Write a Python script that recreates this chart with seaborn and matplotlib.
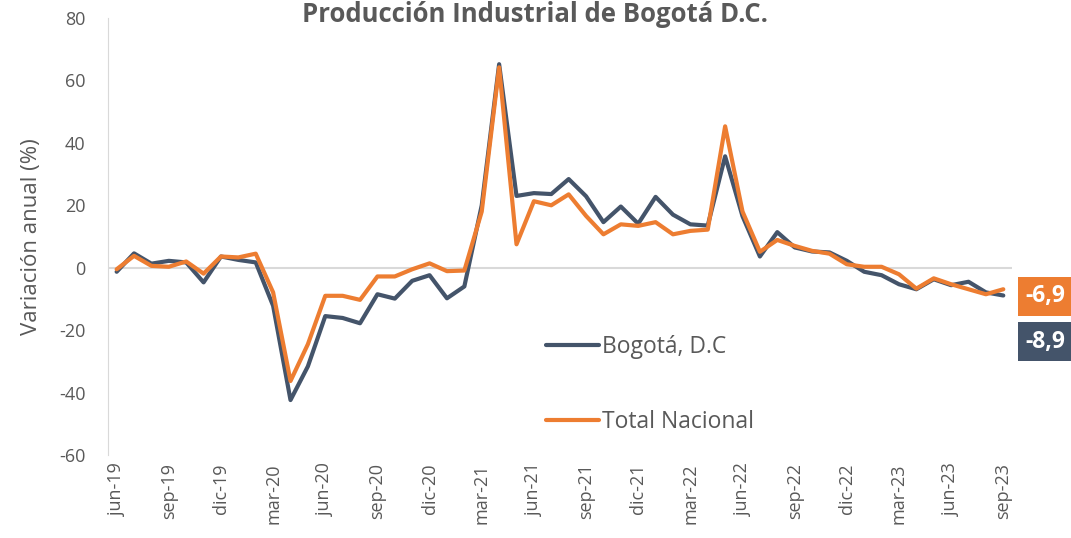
import numpy as np
import pandas as pd
import matplotlib.pyplot as plt
import seaborn as sns

# meses en español, serie de jun-19 a sep-23
meses = ['ene', 'feb', 'mar', 'abr', 'may', 'jun', 'jul', 'ago', 'sep', 'oct', 'nov', 'dic']
periodos = [f"{meses[m % 12]}-{19 + m // 12}" for m in range(5, 5 + 52)]

bogota = [-1.3, 4.6, 1.3, 2.2, 1.7, -4.7, 3.6, 2.5, 1.7, -12.2,
          -42.4, -31.6, -15.5, -16.1, -17.8, -8.5, -9.9, -4.2, -2.4, -9.8,
          -6.0, 20.0, 65.2, 23.0, 23.9, 23.6, 28.4, 22.9, 14.6, 19.6,
          14.1, 22.7, 17.0, 13.9, 13.5, 35.7, 16.5, 3.6, 11.4, 6.5,
          5.2, 4.9, 2.2, -1.3, -2.4, -5.3, -6.9, -3.7, -5.6, -4.5,
          -7.9, -8.9]
nacional = [-0.5, 3.8, 0.6, 0.3, 2.0, -1.9, 3.6, 3.3, 4.5, -7.9,
            -36.3, -24.5, -9.0, -9.0, -10.3, -2.8, -2.8, -0.5, 1.4, -1.1,
            -0.9, 18.0, 64.2, 7.5, 21.3, 20.0, 23.5, 16.6, 10.7, 13.9,
            13.4, 14.6, 10.7, 11.8, 12.2, 45.3, 18.0, 5.1, 8.9, 7.0,
            5.4, 4.5, 1.1, 0.3, 0.3, -2.1, -6.7, -3.4, -5.3, -6.9,
            -8.5, -6.9]

series = ['Bogotá, D.C', 'Total Nacional']
colores = ['#44546A', '#ED7D31']
gris = '#595959'

n = len(periodos)
df = pd.DataFrame({
    'pos': np.tile(np.arange(n), 2),
    'valor': bogota + nacional,
    'serie': [series[0]] * n + [series[1]] * n,
})

sns.set_style('white')
plt.rcParams['font.family'] = ['Open Sans', 'DejaVu Sans']
plt.rcParams['axes.unicode_minus'] = False

fig = plt.figure(figsize=(10.71, 5.38), dpi=100)
ax = fig.add_axes([0.1008, 0.1543, 0.8441, 0.8122])

ax.axhline(0, color='#d9d9d9', lw=1.5, zorder=0)
sns.lineplot(data=df, x='pos', y='valor', hue='serie', hue_order=series,
             palette=colores, linewidth=3, ax=ax)
for ln in ax.lines:
    ln.set_solid_joinstyle('round')
    ln.set_solid_capstyle('round')

ax.set_xlim(-0.5, n - 0.5)
ax.set_ylim(-60, 80)
ax.set_yticks(range(-60, 81, 20))
ax.set_xticks(range(0, n, 3))
ax.set_xticklabels(periodos[::3], rotation=90)
ax.tick_params(length=0, colors=gris, labelsize=13)
ax.tick_params(axis='y', pad=16)
ax.tick_params(axis='x', pad=6)
for s in ['top', 'right', 'bottom']:
    ax.spines[s].set_visible(False)
ax.spines['left'].set_color('#d9d9d9')
ax.set_xlabel('')
ax.set_ylabel('Variación anual (%)', fontsize=16, color=gris)
ax.yaxis.set_label_coords(-0.073, 0.5)

leg = ax.legend(loc='center left', bbox_to_anchor=(0.4845, 0.161), frameon=False,
                fontsize=16.5, labelspacing=2.2, handlelength=2.3, handletextpad=0.15,
                borderpad=0, borderaxespad=0, labelcolor=gris)
for h in leg.get_lines():
    h.set_linewidth(3)

# etiquetas del último dato
ult = [(nacional[-1], colores[1], 0.3627), (bogota[-1], colores[0], 0.2597)]
for v, c, yy in ult:
    ax.text(1.0145, yy, f"{v:.1f}".replace('.', ','), transform=ax.transAxes,
            ha='left', va='center', color='white', fontweight='bold', fontsize=16.5,
            bbox=dict(boxstyle='square,pad=0.32', fc=c, ec='none'), clip_on=False)

fig.text(0.4995, 0.999, 'Producción Industrial de Bogotá D.C.', ha='center',
         va='top', fontsize=18.5, fontweight='bold', color=gris)

fig.savefig('out.png', dpi=100)
